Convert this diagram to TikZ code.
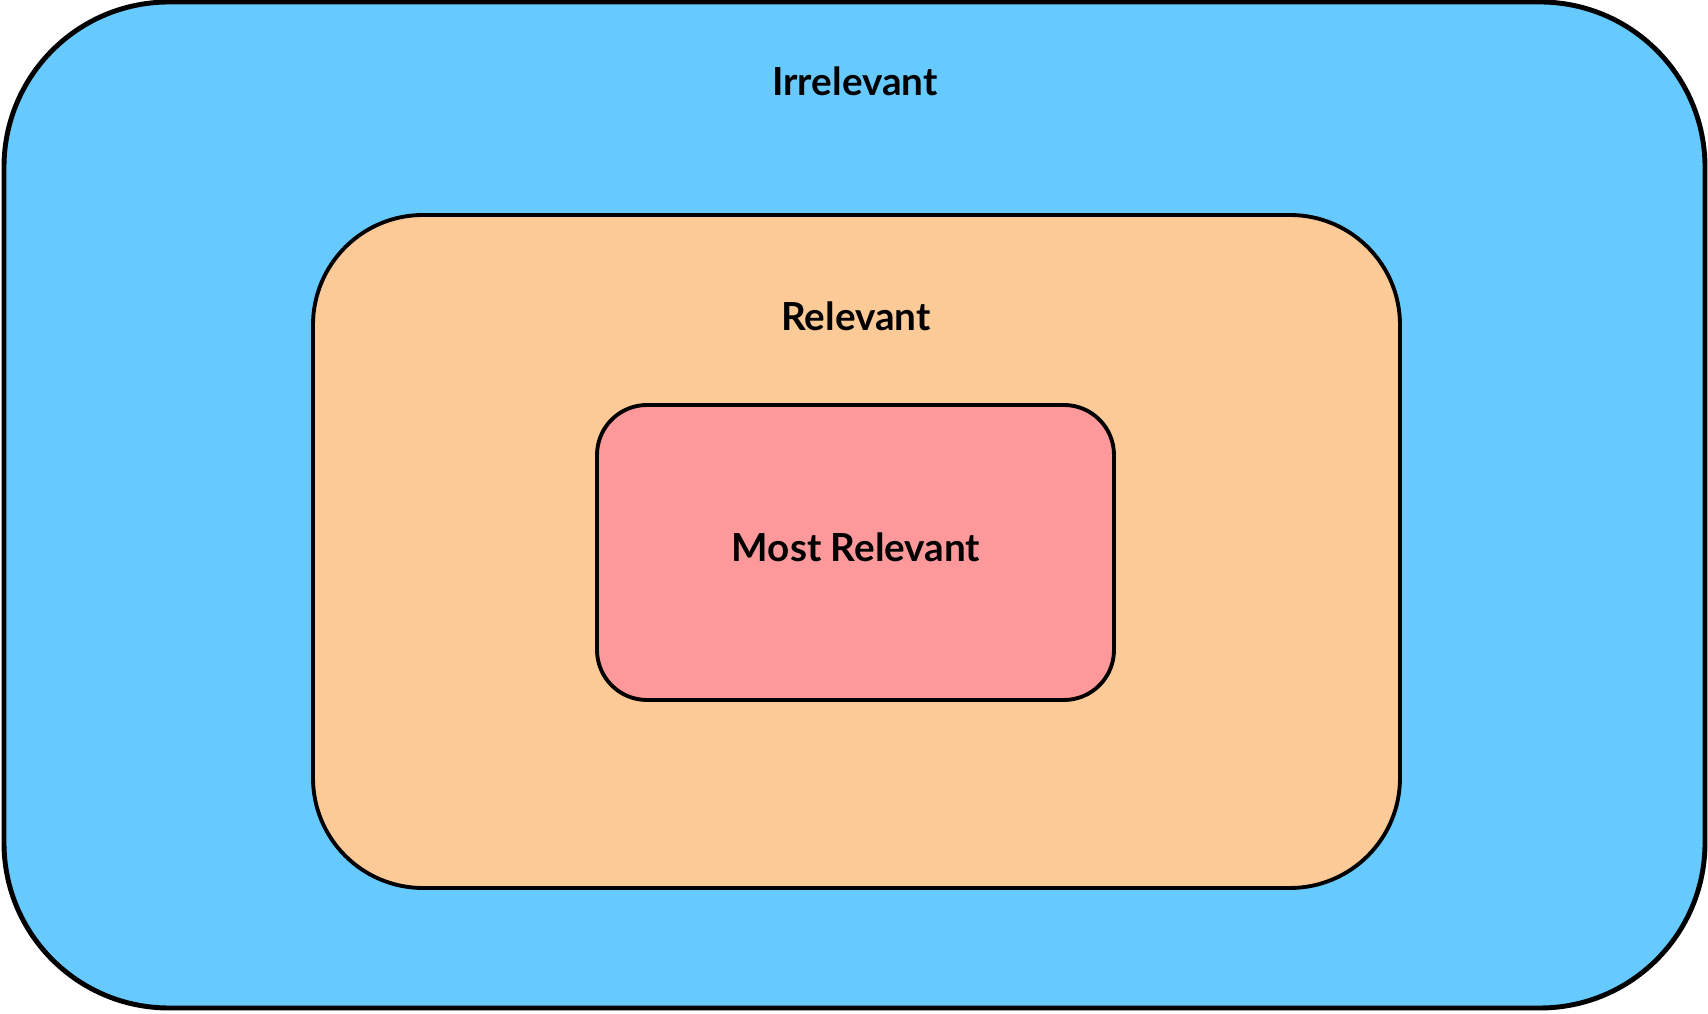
\documentclass[tikz,border=0pt]{standalone}
\usepackage{fontspec}
\setmainfont{Lato}
\usetikzlibrary{positioning}
\definecolor{irrblue}{HTML}{66CAFE}
\definecolor{relorange}{HTML}{FBCA97}
\definecolor{mostred}{HTML}{FE999B}

\begin{document}
\begin{tikzpicture}[zone/.style={draw, rectangle, inner sep=0pt}, lbl/.style={font=\bfseries\fontsize{11}{13}\selectfont}]
  \useasboundingbox (0,0) rectangle (17.08,-10.14);
  \node (irr) [zone, fill=irrblue, line width=1.4pt, rounded corners=1.65cm, minimum width=17.01cm, minimum height=10.06cm] at (8.545,-5.05) {};
  \node (rel) [zone, fill=relorange, line width=1.1pt, rounded corners=1.1cm, minimum width=10.87cm, minimum height=6.73cm] at (8.565,-5.515) {};
  \node (most) [zone, fill=mostred, line width=1.1pt, rounded corners=0.5cm, minimum width=5.17cm, minimum height=2.95cm] at (8.555,-5.525) {};
  \node (irrlbl) [lbl] at (8.55,-0.81) {Irrelevant};
  \node (rellbl) [lbl] at (8.56,-3.16) {Relevant};
  \node (mostlbl) [lbl] at (8.56,-5.47) {Most Relevant};
\end{tikzpicture}
\end{document}
